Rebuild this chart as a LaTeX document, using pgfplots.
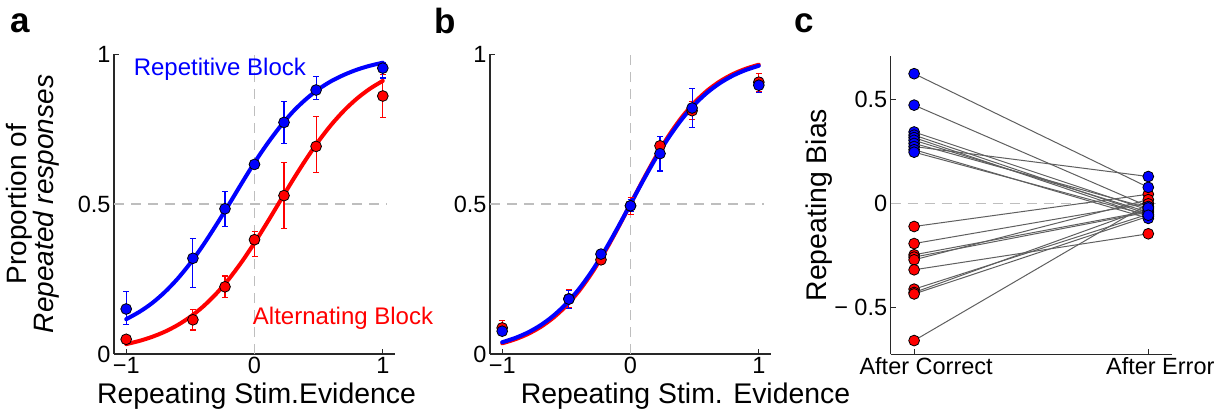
\documentclass[border=0pt]{standalone}
\usepackage{fontspec}
\setmainfont{Liberation Sans}
\usepackage{pgfplots}
\pgfplotsset{compat=1.18}
\definecolor{myblue}{RGB}{0,0,255}
\definecolor{myred}{RGB}{255,0,0}
\definecolor{axgray}{RGB}{40,40,40}
\definecolor{dashgray}{RGB}{190,190,190}
\definecolor{linegray}{RGB}{95,95,95}
\newcommand{\fs}[2]{\fontsize{#1}{#2}\selectfont}
\pgfplotsset{
  panel/.style={
    scale only axis,
    axis lines*=left,
    axis line style={axgray, line width=1.2pt, -},
    tick style={axgray, line width=1pt},
    tick align=inside,
    major tick length=5pt,
    ticklabel style={font=\fs{23.5}{26}},
    label style={font=\fs{28.4}{30}},
    /pgf/number format/assume math mode=true,
    clip=false,
  },
  dot/.style={only marks, mark=*, mark size=5.4pt, mark options={draw=black, line width=0.8pt}},
  ebar/.style={error bars/.cd, y dir=both, y explicit,
    error bar style={line width=1.1pt, #1},
    error mark options={line width=1.1pt, mark size=3pt, rotate=90, #1}},
  refline/.style={dashgray, line width=1.2pt, dash pattern=on 10pt off 7pt, forget plot},
  fitline/.style={line width=4pt, smooth, line cap=round},
  subj/.style={linegray, line width=1pt},
}
\begin{document}
\begin{tikzpicture}
\useasboundingbox (0,0) rectangle (1224pt,-412pt);

% ---------------- panel a ----------------
\begin{axis}[panel, at={(114pt,-354pt)}, anchor=south west,
  width=281pt, height=300pt,
  xmin=-1.095, xmax=1.095, ymin=0, ymax=1,
  xtick={-1,0,1}, xticklabels={−1,0,1},
  ytick={0,0.5,1}, yticklabels={0,0.5,1},
  xlabel={Repeating Stim.Evidence},
  xlabel style={at={(axis description cs:0.5,0)}, anchor=base, yshift=-49pt, xshift=2pt},
  ylabel={Proportion of\\\textit{Repeated responses}},
  ylabel style={at={(axis description cs:-0.1922,0.5)}, anchor=south, align=center, inner sep=0pt, font=\fs{28}{25}},
]
\addplot[refline] coordinates {(0,0) (0,1)};
\addplot[refline] coordinates {(-1.095,0.5) (1.03,0.5)};
\addplot[myred, fitline] coordinates {
(-1,0.0329) (-0.9,0.0433) (-0.8,0.0568) (-0.7,0.0741) (-0.6,0.0962) (-0.5,0.124)
(-0.4,0.1584) (-0.3,0.2002) (-0.2,0.2497) (-0.1,0.3068) (0,0.3705) (0.1,0.439)
(0.2,0.510) (0.3,0.5806) (0.4,0.6479) (0.5,0.7099) (0.6,0.765) (0.7,0.8123)
(0.8,0.852) (0.9,0.8844) (1,0.9105)};
\addplot[myblue, fitline] coordinates {
(-1,0.116) (-0.9,0.1397) (-0.8,0.169) (-0.7,0.206) (-0.6,0.2505) (-0.5,0.303)
(-0.4,0.363) (-0.3,0.429) (-0.2,0.498) (-0.1,0.569) (0,0.638) (0.1,0.701)
(0.2,0.758) (0.3,0.808) (0.4,0.849) (0.5,0.883) (0.6,0.910) (0.7,0.931)
(0.8,0.948) (0.9,0.961) (1,0.971)};
\addplot[dot, fill=myred, ebar=myred] coordinates {
(-1,0.049) +- (0,0.01)
(-0.48,0.114) +- (0,0.034)
(-0.23,0.224) +- (0,0.036)
(0,0.381) += (0,0.026) -= (0,0.055)
(0.23,0.528) +- (0,0.11)
(0.48,0.692) += (0,0.1) -= (0,0.086)
(1,0.86) +- (0,0.073)};
\addplot[dot, fill=myblue, ebar=myblue] coordinates {
(-1,0.15) += (0,0.059) -= (0,0.052)
(-0.48,0.319) += (0,0.065) -= (0,0.096)
(-0.23,0.484) +- (0,0.058)
(0,0.632) +- (0,0.012)
(0.23,0.772) +- (0,0.07)
(0.48,0.88) += (0,0.046) -= (0,0.032)
(1,0.953) += (0,0.017) -= (0,0.033)};
\node[anchor=base, text=myblue, font=\fs{24}{26}, inner sep=0pt] at (axis cs:-0.27,0.93) {Repetitive Block};
\node[anchor=base, text=myred, font=\fs{24}{26}, inner sep=0pt] at (axis cs:0.69,0.097) {Alternating Block};
\end{axis}

% ---------------- panel b ----------------
\begin{axis}[panel, at={(490pt,-354pt)}, anchor=south west,
  width=281pt, height=300pt,
  xmin=-1.095, xmax=1.095, ymin=0, ymax=1,
  xtick={-1,0,1}, xticklabels={−1,0,1},
  ytick={0,0.5,1}, yticklabels={0,0.5,1},
  xlabel={Repeating Stim. Evidence},
  xlabel style={at={(axis description cs:0.5,0)}, anchor=base, yshift=-49pt, xshift=55pt},
]
\addplot[refline] coordinates {(0,0) (0,1)};
\addplot[refline] coordinates {(-1.095,0.5) (1.04,0.5)};
\addplot[myred, fitline] coordinates {
(-1,0.0356) (-0.9,0.0488) (-0.8,0.0666) (-0.7,0.0903) (-0.6,0.1213) (-0.5,0.1611)
(-0.4,0.2108) (-0.3,0.2709) (-0.2,0.3407) (-0.1,0.4182) (0,0.5) (0.1,0.5818)
(0.2,0.6593) (0.3,0.7291) (0.4,0.7892) (0.5,0.8389) (0.6,0.8787) (0.7,0.9097)
(0.8,0.9334) (0.9,0.9512) (1,0.9644)};
\addplot[myblue, fitline] coordinates {
(-1,0.0392) (-0.9,0.0532) (-0.8,0.0717) (-0.7,0.0962) (-0.6,0.1279) (-0.5,0.168)
(-0.4,0.2175) (-0.3,0.2769) (-0.2,0.3452) (-0.1,0.4207) (0,0.5) (0.1,0.5793)
(0.2,0.6548) (0.3,0.7231) (0.4,0.7825) (0.5,0.832) (0.6,0.8721) (0.7,0.9038)
(0.8,0.9283) (0.9,0.9468) (1,0.9608)};
\addplot[dot, fill=myred, ebar=myred] coordinates {
(-1,0.087) +- (0,0.025)
(-0.48,0.184) +- (0,0.03)
(-0.23,0.314) +- (0,0.015)
(0,0.494) +- (0,0.028)
(0.23,0.694) +- (0,0.03)
(0.48,0.811) +- (0,0.03)
(1,0.906) +- (0,0.03)};
\addplot[dot, fill=myblue, ebar=myblue] coordinates {
(-1,0.076) +- (0,0.01)
(-0.48,0.183) +- (0,0.03)
(-0.23,0.333) +- (0,0.015)
(0,0.494) +- (0,0.02)
(0.23,0.668) +- (0,0.058)
(0.48,0.82) +- (0,0.065)
(1,0.896) +- (0,0.025)};
\end{axis}

% ---------------- panel c ----------------
\begin{axis}[panel, at={(890.7pt,-354.3pt)}, anchor=south west,
  width=281pt, height=298.3pt,
  xmin=0.9, xmax=2.1, ymin=-0.723, ymax=0.71,
  xtick={1,2}, xticklabels={After Correct,After Error},
  xticklabel style={xshift=12pt, font=\fs{23.5}{26}},
  ytick={-0.5,0,0.5}, yticklabels={− 0.5,0,0.5},
  ylabel={Repeating Bias},
  ylabel style={at={(axis description cs:-0.2053,0.5)}, anchor=south, inner sep=0pt},
]
\addplot[refline] coordinates {(0.9,0) (2.06,0)};
% subjects (after correct -> after error)
\addplot[subj] coordinates {(1,0.625) (2,0.079)};
\addplot[subj] coordinates {(1,0.474) (2,-0.013)};
\addplot[subj] coordinates {(1,0.345) (2,-0.030)};
\addplot[subj] coordinates {(1,0.330) (2,-0.050)};
\addplot[subj] coordinates {(1,0.318) (2,-0.060)};
\addplot[subj] coordinates {(1,0.305) (2,-0.040)};
\addplot[subj] coordinates {(1,0.290) (2,-0.020)};
\addplot[subj] coordinates {(1,0.275) (2,0.131)};
\addplot[subj] coordinates {(1,0.260) (2,-0.070)};
\addplot[subj] coordinates {(1,0.248) (2,-0.055)};
\addplot[subj] coordinates {(1,-0.109) (2,0.046)};
\addplot[subj] coordinates {(1,-0.191) (2,0.003)};
\addplot[subj] coordinates {(1,-0.245) (2,-0.035)};
\addplot[subj] coordinates {(1,-0.256) (2,-0.040)};
\addplot[subj] coordinates {(1,-0.269) (2,0.020)};
\addplot[subj] coordinates {(1,-0.317) (2,-0.144)};
\addplot[subj] coordinates {(1,-0.410) (2,-0.050)};
\addplot[subj] coordinates {(1,-0.426) (2,-0.020)};
\addplot[subj] coordinates {(1,-0.433) (2,-0.060)};
\addplot[subj] coordinates {(1,-0.657) (2,0.000)};
% markers
\addplot[dot, fill=myred] coordinates {
(1,-0.109) (1,-0.191) (1,-0.245) (1,-0.256) (1,-0.269) (1,-0.317) (1,-0.410) (1,-0.426) (1,-0.433) (1,-0.657)
(2,0.046) (2,0.003) (2,-0.035) (2,-0.040) (2,0.020) (2,-0.144) (2,-0.050) (2,-0.020) (2,-0.060) (2,0.000)};
\addplot[dot, fill=myblue] coordinates {
(1,0.625) (1,0.474) (1,0.345) (1,0.330) (1,0.318) (1,0.305) (1,0.290) (1,0.275) (1,0.260) (1,0.248)
(2,0.079) (2,-0.013) (2,-0.030) (2,-0.050) (2,-0.060) (2,-0.040) (2,-0.020) (2,0.131) (2,-0.070) (2,-0.055)};
\end{axis}

% panel letters
\node[anchor=base west, inner sep=0pt, font=\fs{35}{38}\bfseries] at (10pt,-33pt) {a};
\node[anchor=base west, inner sep=0pt, font=\fs{35}{38}\bfseries] at (434pt,-34pt) {b};
\node[anchor=base west, inner sep=0pt, font=\fs{35}{38}\bfseries] at (794pt,-33pt) {c};
\end{tikzpicture}
\end{document}
